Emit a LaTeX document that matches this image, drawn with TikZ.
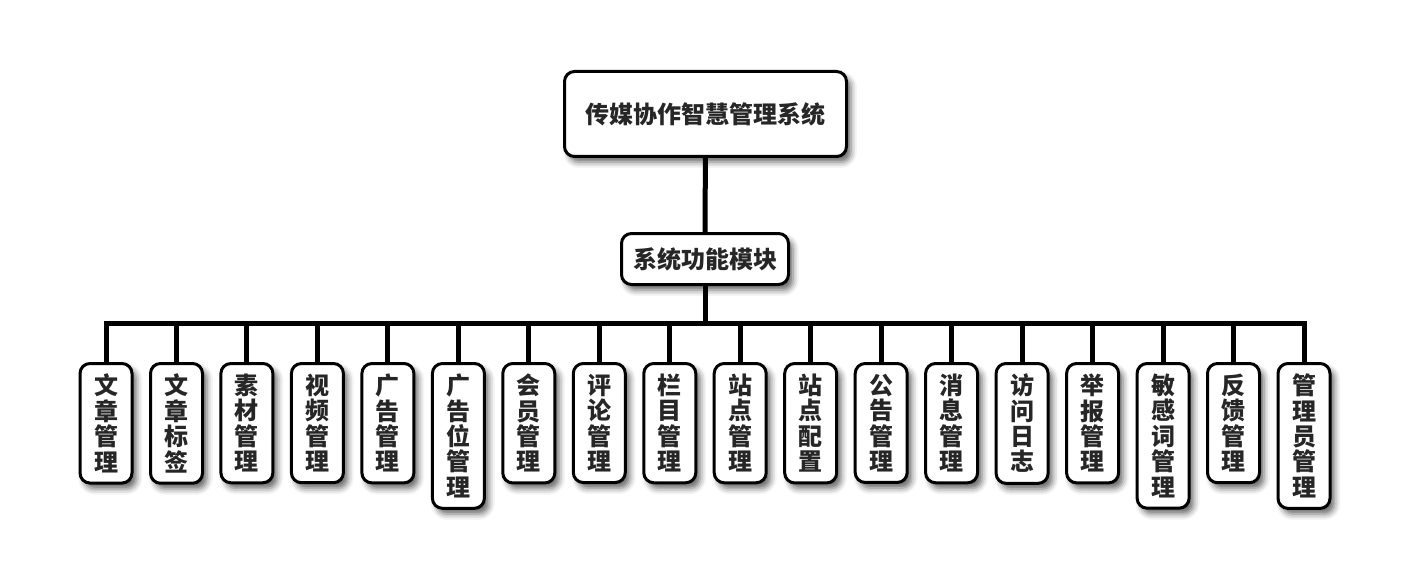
\documentclass[tikz,border=0pt]{standalone}
\usepackage{fontspec}
\setmainfont{Noto Sans CJK SC}
\usepackage{tikz}
\usetikzlibrary{shadows.blur}
\newcommand\module[3]{\node[module] (#1) at (#2,362) {#3};}
\newcommand\connect[2]{\draw (#1.north) |- (#2);}

\begin{document}
\begin{tikzpicture}[x=0.5pt,y=-0.5pt]
\tikzstyle{box}=[draw,line width=1.5pt,rounded corners=5pt,fill=white,text=black!85,
  font=\bfseries\fontsize{12}{12.7}\selectfont,
  blur shadow={shadow xshift=2.2pt,shadow yshift=-2.8pt,shadow blur radius=3pt,shadow opacity=60}]
\tikzstyle{module}=[box,anchor=north,align=center,inner xsep=6.25pt,inner ysep=5.25pt,minimum width=26pt]
\tikzstyle{every path}=[line width=2.5pt]
\useasboundingbox (0,0) rectangle (1409,583);

\node[box,minimum width=141pt,minimum height=42.5pt] (sys) at (705.5,114) {传媒协作智慧管理系统};
\node[box,minimum width=83.5pt,minimum height=25.5pt] (func) at (705,259) {系统功能模块};
\coordinate (bus) at (705,323);

\module{wzgl}{106}{文\\章\\管\\理}
\module{wzbq}{176.5}{文\\章\\标\\签}
\module{scgl}{246.9}{素\\材\\管\\理}
\module{spgl}{317.4}{视\\频\\管\\理}
\module{gggl}{387.9}{广\\告\\管\\理}
\module{ggwgl}{458.4}{广\\告\\位\\管\\理}
\module{hygl}{528.8}{会\\员\\管\\理}
\module{plgl}{599.3}{评\\论\\管\\理}
\module{lmgl}{669.8}{栏\\目\\管\\理}
\module{zdgl}{740.2}{站\\点\\管\\理}
\module{zdpz}{810.7}{站\\点\\配\\置}
\module{gonggl}{881.2}{公\\告\\管\\理}
\module{xxgl}{951.6}{消\\息\\管\\理}
\module{fwrz}{1022.1}{访\\问\\日\\志}
\module{jbgl}{1092.6}{举\\报\\管\\理}
\module{mgcgl}{1163.1}{敏\\感\\词\\管\\理}
\module{fkgl}{1233.5}{反\\馈\\管\\理}
\module{glygl}{1304}{管\\理\\员\\管\\理}

%% connections

\draw (sys) -- (func);
\draw (func) -- (bus);
\connect{wzgl}{bus};
\connect{wzbq}{bus};
\connect{scgl}{bus};
\connect{spgl}{bus};
\connect{gggl}{bus};
\connect{ggwgl}{bus};
\connect{hygl}{bus};
\connect{plgl}{bus};
\connect{lmgl}{bus};
\connect{zdgl}{bus};
\connect{zdpz}{bus};
\connect{gonggl}{bus};
\connect{xxgl}{bus};
\connect{fwrz}{bus};
\connect{jbgl}{bus};
\connect{mgcgl}{bus};
\connect{fkgl}{bus};
\connect{glygl}{bus};
\end{tikzpicture}
\end{document}
